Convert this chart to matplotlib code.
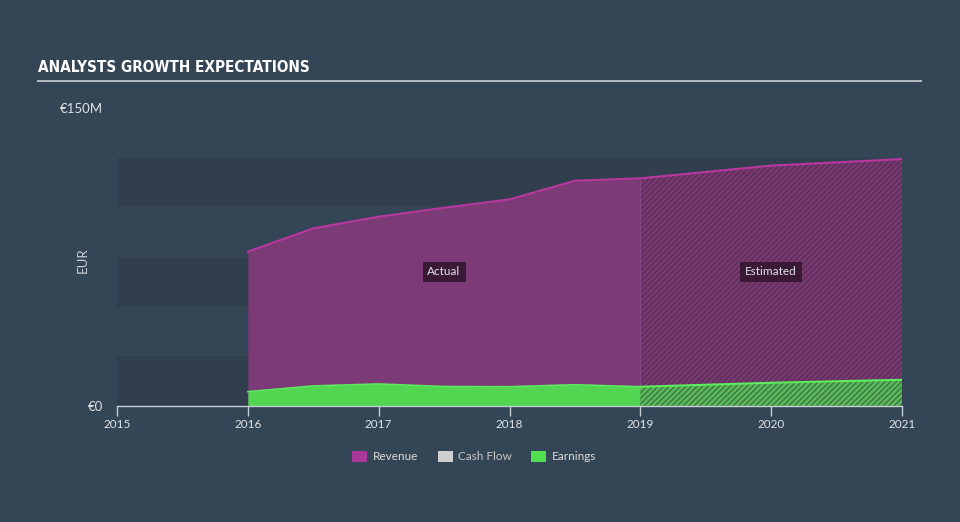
import matplotlib
matplotlib.use("Agg")
import matplotlib.pyplot as plt
from matplotlib.patches import Rectangle

plt.rcParams['font.family'] = ['Lato', 'DejaVu Sans']
plt.rcParams['hatch.linewidth'] = 0.6

# ---- data (EUR millions) ----
actual_years = [2016.0, 2016.5, 2017.0, 2017.5, 2018.0, 2018.5, 2019.0]
actual_revenue = [77.7, 89.4, 95.3, 99.8, 104.0, 113.4, 114.6]
actual_earnings = [7.2, 10.1, 11.1, 9.8, 9.7, 10.7, 9.7]

est_years = [2019.0, 2020.0, 2021.0]
est_revenue = [114.6, 121.0, 124.3]
est_earnings = [9.7, 11.7, 13.2]

year_ticks = [2015, 2016, 2017, 2018, 2019, 2020, 2021]
y_ticks = [0, 150]
y_tick_labels = ['€0', '€150M']
band_edges = [(0, 25), (50, 75), (100, 125)]

legend_labels = ['Revenue', 'Cash Flow', 'Earnings']
legend_colors = ['#a8389c', '#cfcfcf', '#4fdf4f']

BG = '#344555'
BAND = '#303e4d'
REV_FILL = '#7c3a77'
REV_LINE = '#b8389f'
EARN_FILL = '#52d652'
EARN_LINE = '#5cec5c'
AXIS_C = '#c4ccd4'
TEXT_C = '#dfe3e7'

fig = plt.figure(figsize=(9.6, 5.22), dpi=100, facecolor=BG)
W, H = 960, 522

ax = fig.add_axes([117 / W, 116 / H, 785 / W, 298 / H])
ax.set_facecolor(BG)
ax.set_xlim(2015, 2021)
ax.set_ylim(0, 150)

for lo, hi in band_edges:
    ax.axhspan(lo, hi, color=BAND, zorder=0, lw=0)

# actual
ax.fill_between(actual_years, 0, actual_revenue, color=REV_FILL, lw=0, zorder=2)
ax.plot(actual_years, actual_revenue, color=REV_LINE, lw=1.5, zorder=3)
ax.fill_between(actual_years, 0, actual_earnings, color=EARN_FILL, lw=0, zorder=4)
ax.plot(actual_years, actual_earnings, color=EARN_LINE, lw=1.2, zorder=5)

# estimated (hatched)
ax.fill_between(est_years, 0, est_revenue, facecolor='#77386f', lw=0, zorder=2)
ax.fill_between(est_years, 0, est_revenue, facecolor='none', edgecolor='#4c2a4c',
                hatch='//////', lw=0, zorder=2.5)
ax.plot(est_years, est_revenue, color=REV_LINE, lw=1.5, zorder=3)
ax.fill_between(est_years, 0, est_earnings, facecolor='#58b858', lw=0, zorder=4)
ax.fill_between(est_years, 0, est_earnings, facecolor='none', edgecolor='#33503c',
                hatch='//////', lw=0, zorder=4.5)
ax.plot(est_years, est_earnings, color=EARN_LINE, lw=1.5, zorder=5)

# boundary line at 2019 and right edge
ax.plot([2019, 2019], [0, est_revenue[0]], color='#8a4a86', lw=0.6, zorder=3)
ax.plot([2021, 2021], [0, est_revenue[-1]], color='#9a5a96', lw=0.8, zorder=3)

# labels
box = dict(facecolor='#3a1936', edgecolor='none', pad=3.5)
ax.text(2017.5, 67.5, 'Actual', ha='center', va='center', color=TEXT_C,
        fontsize=8.5, bbox=box, zorder=6)
ax.text(2020.0, 67.5, 'Estimated', ha='center', va='center', color=TEXT_C,
        fontsize=8.5, bbox=box, zorder=6)

for s in ['top', 'right', 'left']:
    ax.spines[s].set_visible(False)
ax.spines['bottom'].set_color(AXIS_C)
ax.spines['bottom'].set_linewidth(1.0)
ax.spines['bottom'].set_zorder(7)

ax.set_xticks(year_ticks)
ax.set_xticklabels([str(y) for y in year_ticks])
ax.tick_params(axis='x', colors=AXIS_C, length=7, width=1, direction='out',
               labelcolor=TEXT_C, labelsize=8.5, pad=2)
ax.set_yticks(y_ticks)
ax.set_yticklabels(y_tick_labels)
ax.tick_params(axis='y', length=0, labelcolor=TEXT_C, labelsize=9.5, pad=10)

fig.text(83 / W, 1 - 260 / H, 'EUR', rotation=90, ha='center', va='center',
         color='#c8cfd6', fontsize=9.5)

# title
fig.text(38 / W, 1 - 68 / H, 'ANALYSTS GROWTH EXPECTATIONS', ha='left', va='center',
         color='#ffffff', fontsize=11, fontweight='bold', fontstretch='condensed',
         family=['DejaVu Sans Condensed', 'Liberation Sans Narrow', 'DejaVu Sans'])
fig.add_artist(plt.Line2D([38 / W, 921 / W], [1 - 81 / H, 1 - 81 / H],
                          color='#b0b8c0', lw=1.5))

# legend
sq_x = [352, 438, 531]
tx_x = [373, 458, 552]
for lab, col, sx, tx in zip(legend_labels, legend_colors, sq_x, tx_x):
    fig.add_artist(Rectangle((sx / W, 1 - 462 / H), 15 / W, 11 / H,
                             facecolor=col, edgecolor='none',
                             transform=fig.transFigure))
    fig.text(tx / W, 1 - 456.5 / H, lab, ha='left', va='center',
             color='#c8c8c8' if lab == 'Cash Flow' else '#dcdcdc', fontsize=8.5)

fig.savefig('out.png', dpi=100, facecolor=BG)
